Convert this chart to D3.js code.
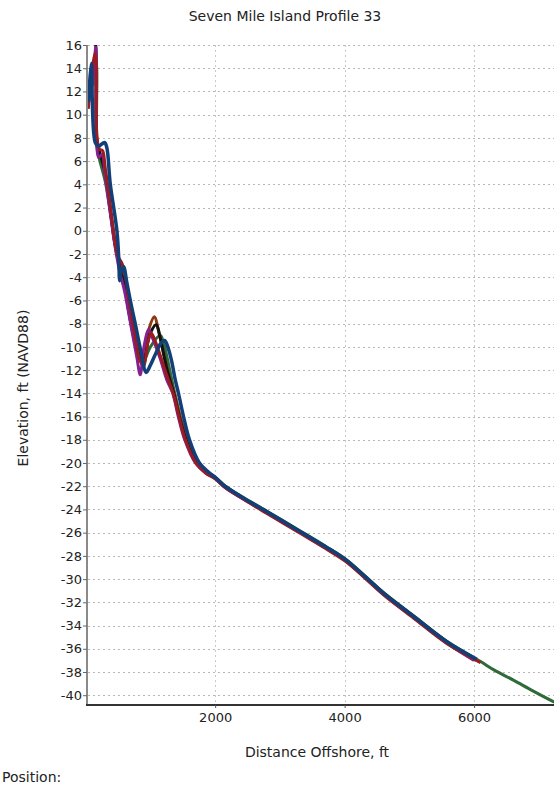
<!DOCTYPE html>
<html>
<head>
<meta charset="utf-8">
<script src="https://cdn.jsdelivr.net/npm/d3@7"></script>
<style>
	body { margin: 0; background: #fff; }
	svg { display: block; font-family: "DejaVu Sans", sans-serif; }
</style>
</head>
<body>
<div id="container"></div>
<script>
// profile surveys, [distance offshore ft, elevation ft]
var surveyGreen = [[110,12.5],[140,14.8],[160,14.6],[175,7.2],[220,6],[300,4.3],[380,1.6],[450,-1],[520,-3],[600,-4.8],[700,-7.8],[800,-10.5],[880,-11.3],[1000,-10],[1150,-9],[1200,-9.6],[1280,-11.5],[1375,-14],[1460,-16],[1570,-18],[1730,-20],[1880,-20.8],[2000,-21.2],[2150,-21.95],[2400,-22.85],[2800,-24.15],[3313,-25.85],[3700,-27.15],[4008,-28.25],[4300,-29.65],[4600,-31.15],[5063,-33.15],[5578,-35.35],[6100,-37.1],[6300,-37.8],[6607,-38.7],[6900,-39.6],[7240,-40.6]];
var surveyBrown = [[150,14],[165,14.5],[178,7.5],[220,6.6],[300,5],[380,1.8],[440,-0.8],[510,-2.6],[570,-3],[620,-4.2],[700,-7],[800,-10.2],[893,-11.7],[980,-8.4],[1063,-7.4],[1120,-8.5],[1200,-10.5],[1290,-12.6],[1370,-14],[1455,-16],[1560,-18],[1720,-20],[1870,-20.85],[2000,-21.3],[2150,-22.05],[2400,-22.95],[2800,-24.25],[3313,-25.95],[3700,-27.25],[4008,-28.35],[4300,-29.75],[4600,-31.25],[5063,-33.25],[5578,-35.45],[6050,-37]];
var surveyBlack = [[155,16],[160,15.5],[172,7.8],[220,6.7],[300,5],[380,1.8],[450,-1],[520,-3],[600,-4.6],[660,-6.8],[760,-9.5],[880,-11.2],[1000,-8.8],[1089,-8.1],[1150,-9.2],[1250,-11.8],[1360,-14],[1445,-16],[1550,-18],[1715,-20],[1870,-20.8],[2000,-21.25],[2150,-22],[2400,-22.9],[2800,-24.2],[3313,-25.9],[3700,-27.2],[4008,-28.3],[4300,-29.7],[4600,-31.2],[5063,-33.2],[5578,-35.4],[6000,-36.9]];
var surveyPurple = [[90,12],[130,14.5],[157,15.8],[172,7.2],[200,6.3],[250,6.6],[300,4.8],[380,1.5],[450,-1.2],[520,-3.4],[600,-5.2],[700,-8.2],[790,-10.9],[842,-12.4],[900,-10],[970,-8.5],[1030,-9.2],[1150,-11],[1250,-12.8],[1345,-14],[1430,-16],[1530,-18],[1695,-20],[1860,-20.9],[2000,-21.35],[2150,-22.1],[2400,-23],[2800,-24.3],[3313,-26],[3700,-27.3],[4008,-28.4],[4300,-29.8],[4600,-31.3],[5063,-33.3],[5578,-35.5],[6000,-37]];
var surveyRed = [[40,10.5],[70,12.5],[100,14],[150,15.3],[175,8],[215,7],[260,6.9],[300,5.5],[380,2.2],[430,0],[500,-2.2],[560,-2.8],[600,-3.6],[680,-6.4],[760,-9],[850,-11.3],[900,-11.4],[960,-9.6],[1010,-8.8],[1060,-9.3],[1150,-10.7],[1250,-12.4],[1350,-14],[1440,-16],[1540,-18],[1705,-20],[1860,-20.9],[2000,-21.35],[2150,-22.1],[2400,-23],[2800,-24.35],[3313,-26.05],[3700,-27.35],[4008,-28.45],[4300,-29.85],[4600,-31.35],[5063,-33.35],[5578,-35.55],[6100,-37.2]];
var surveyBlue = [[43,11.1],[85,14.4],[147,7.6],[200,7.3],[290,7.6],[325,7.2],[378,4.1],[482,0],[510,-2.3],[525,-4.3],[545,-3.6],[585,-3.1],[640,-4.6],[700,-6.3],[765,-8],[850,-10.3],[934,-12.2],[980,-11.8],[1080,-10.6],[1160,-9.7],[1220,-9.45],[1280,-10.2],[1330,-11.3],[1382,-12.8],[1433,-14],[1511,-16],[1603,-18],[1757,-20],[1900,-20.8],[2000,-21.25],[2150,-22],[2400,-22.9],[2800,-24.2],[3313,-25.9],[3700,-27.2],[4008,-28.3],[4300,-29.7],[4600,-31.2],[5063,-33.2],[5578,-35.4],[6040,-36.9]];

var surveys = [surveyGreen, surveyBrown, surveyBlack, surveyPurple, surveyRed, surveyBlue];
var surveyColors = ['#2f6b38', '#8a3a12', '#111111', '#85208f', '#9a1c22', '#123f78'];

var yTicks = d3.range(-40, 17, 2);
var xTicks = [2000, 4000, 6000];

var width = 554;
var height = 785;

var x = d3.scaleLinear().domain([20, 7250]).range([87, 555]);
var y = d3.scaleLinear().domain([-40.8, 16]).range([704.5, 45]);

var svg = d3.select('#container')
	.append('svg')
	.attr('width', width)
	.attr('height', height);

svg.append('defs').append('clipPath')
	.attr('id', 'plot')
	.append('rect')
	.attr('x', 87).attr('y', 30)
	.attr('width', 470).attr('height', 675);

// grid
svg.append('g')
	.selectAll('line')
	.data(yTicks)
	.enter()
	.append('line')
	.attr('x1', 88).attr('x2', width)
	.attr('y1', (d) => Math.round(y(d)) + 0.5)
	.attr('y2', (d) => Math.round(y(d)) + 0.5)
	.attr('stroke', '#b8b8b8')
	.attr('stroke-dasharray', '2,3');

svg.append('g')
	.selectAll('line')
	.data(xTicks)
	.enter()
	.append('line')
	.attr('x1', (d) => Math.round(x(d)) + 0.5)
	.attr('x2', (d) => Math.round(x(d)) + 0.5)
	.attr('y1', y(16)).attr('y2', 704)
	.attr('stroke', '#c8c8c8')
	.attr('stroke-dasharray', '2,3');

// profiles
var line = d3.line()
	.x((d) => x(d[0]))
	.y((d) => y(d[1]))
	.curve(d3.curveCatmullRom.alpha(0.5));

svg.append('g')
	.attr('clip-path', 'url(#plot)')
	.selectAll('path')
	.data(surveys)
	.enter()
	.append('path')
	.attr('d', line)
	.attr('fill', 'none')
	.attr('stroke', (d, i) => surveyColors[i])
	.attr('stroke-width', (d, i) => i == surveys.length - 1 ? 3.5 : 3)
	.attr('stroke-linejoin', 'round');

// axes
var yAxis = svg.append('g')
	.attr('transform', 'translate(87,0)')
	.call(d3.axisLeft(y).tickValues(yTicks).tickSize(4).tickPadding(1).tickFormat((d) => String(d)));
yAxis.select('.domain').attr('stroke', '#8a8a8a').attr('stroke-width', 2)
	.attr('d', 'M0,' + y(16) + 'V' + 705);
yAxis.selectAll('.tick line').attr('stroke', '#666');
yAxis.selectAll('text').attr('font-size', 13).attr('fill', '#222')
	.attr('font-family', '"DejaVu Sans", sans-serif');

var xAxis = svg.append('g')
	.attr('transform', 'translate(0,705)')
	.call(d3.axisBottom(x).tickValues(xTicks).tickSize(3).tickPadding(5).tickFormat((d) => String(d)));
xAxis.select('.domain').attr('stroke', '#333').attr('stroke-width', 2)
	.attr('d', 'M86,0H' + width);
xAxis.selectAll('.tick line').attr('stroke', '#555');
xAxis.selectAll('text').attr('font-size', 13).attr('fill', '#222')
	.attr('font-family', '"DejaVu Sans", sans-serif');

// labels
svg.append('text')
	.attr('x', 285).attr('y', 21)
	.attr('text-anchor', 'middle')
	.attr('font-size', 14).attr('fill', '#222')
	.text('Seven Mile Island Profile 33');

svg.append('text')
	.attr('x', 317).attr('y', 757)
	.attr('text-anchor', 'middle')
	.attr('font-size', 14).attr('fill', '#222')
	.text('Distance Offshore, ft');

svg.append('text')
	.attr('transform', 'translate(28,388) rotate(-90)')
	.attr('text-anchor', 'middle')
	.attr('font-size', 14).attr('fill', '#222')
	.text('Elevation, ft (NAVD88)');

svg.append('text')
	.attr('x', 2).attr('y', 782)
	.attr('font-size', 14).attr('fill', '#222')
	.text('Position:');
</script>
</body>
</html>
